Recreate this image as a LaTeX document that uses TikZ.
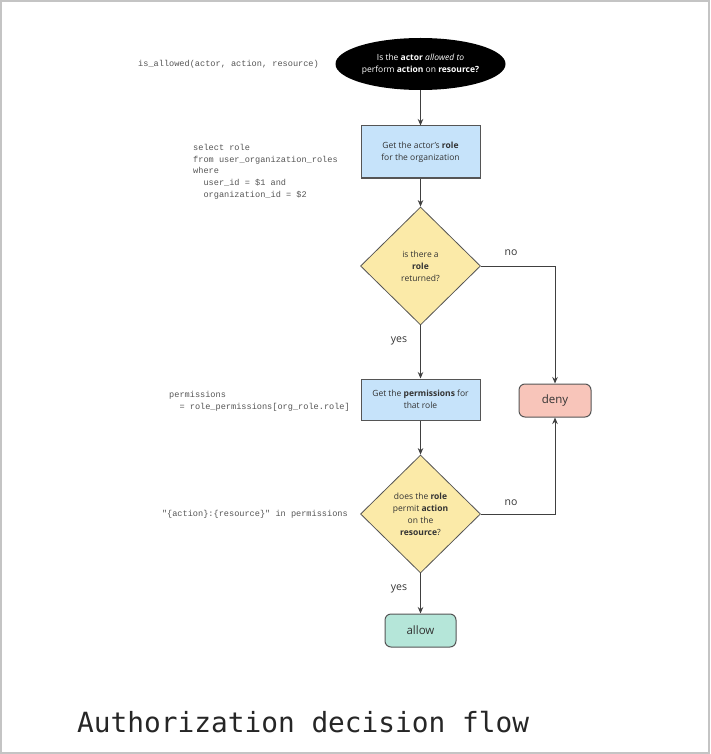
\documentclass[tikz,border=0pt]{standalone}
\usepackage{fontspec}
\usepackage{xcolor}
\setmainfont{Open Sans}
\newfontfamily\codefont{Liberation Mono}
\newfontfamily\titlefont{DejaVu Sans Mono}
\usetikzlibrary{shapes.geometric,arrows.meta}

\definecolor{frame}{HTML}{C4C4C4}
\definecolor{edge}{HTML}{555555}
\definecolor{ink}{HTML}{333333}
\definecolor{codegray}{HTML}{555555}
\definecolor{boxblue}{HTML}{C6E3FA}
\definecolor{askyellow}{HTML}{FBEAA8}
\definecolor{denyred}{HTML}{F8C5BA}
\definecolor{allowgreen}{HTML}{B5E6D9}

\begin{document}
\begin{tikzpicture}[x=1pt,y=-1pt,
    txt/.style={font=\fontsize{8.5}{12}\selectfont,text=ink,align=center},
    code/.style={font=\codefont\fontsize{8.6}{11.7}\selectfont,text=codegray,align=left,inner sep=0pt},
    stepbox/.style={txt,draw=edge,line width=1pt,fill=boxblue,minimum width=119pt,inner sep=0pt},
    askbox/.style={txt,diamond,draw=edge,line width=0.8pt,fill=askyellow,minimum width=120pt,minimum height=118pt,inner sep=0pt},
    endbox/.style={draw=edge,line width=1pt,rounded corners=6pt,minimum height=33pt,inner sep=0pt,text=ink,font=\fontsize{11.5}{13}\selectfont},
    lbl/.style={font=\fontsize{10.5}{12}\selectfont,text=ink},
    flowline/.style={draw=black!75,line width=1pt,-{Stealth[length=6.5pt,width=5.5pt]}}]
  \useasboundingbox (0,0) rectangle (710,754);
  \draw[frame,line width=2pt] (1,1) rectangle (709,753);

  % flow
  \node[ellipse,fill=black,minimum width=170pt,minimum height=52pt,inner sep=0pt,
        txt,text=white] (ask) at (420.5,64)
        {Is the \textbf{actor} \textit{allowed to}\\perform \textbf{action} on \textbf{resource?}};
  \node[stepbox,minimum height=52pt] (getrole) at (420.5,152)
        {Get the actor's \textbf{role}\\for the organization};
  \node[askbox] (hasrole) at (420.5,266)
        {is there a\\\textbf{role}\\returned?};
  \node[stepbox,minimum height=41pt] (getperms) at (420.5,399.5)
        {Get the \textbf{permissions} for\\that role};
  \node[askbox] (permits) at (420.5,514)
        {does the \textbf{role}\\permit \textbf{action}\\on the\\\textbf{resource}?};
  \node[endbox,fill=denyred,minimum width=72pt] (deny) at (555,400.5) {deny};
  \node[endbox,fill=allowgreen,minimum width=71pt] (allow) at (420.5,630.5) {allow};

  \draw[flowline] (ask) -- (getrole);
  \draw[flowline] (getrole) -- (hasrole);
  \draw[flowline] (hasrole) -- (getperms);
  \draw[flowline] (getperms) -- (permits);
  \draw[flowline] (permits) -- (allow);
  \draw[flowline] (hasrole.east) -| (deny);
  \draw[flowline] (permits.east) -| (deny);

  \node[lbl] (no1) at (511,253) {no};
  \node[lbl] (no2) at (511,503) {no};
  \node[lbl] (yes1) at (399,341) {yes};
  \node[lbl] (yes2) at (399,589) {yes};

  % code beside the steps
  \node[code,anchor=west] (call) at (138,64) {is\_allowed(actor, action, resource)};
  \node[code,anchor=west] (sql) at (193,171.5)
        {select role\\from user\_organization\_roles\\where\\\phantom{xx}user\_id = \$1 and\\\phantom{xx}organization\_id = \$2};
  \node[code,anchor=west] (lookup) at (169,401)
        {permissions\\\phantom{xx}= role\_permissions[org\_role.role]};
  \node[code,anchor=east] (check) at (348,514) {"\{action\}:\{resource\}" in permissions};

  \node[anchor=west,inner sep=0pt,font=\titlefont\fontsize{27.8}{30}\selectfont,text=black!85] (title) at (77,722)
        {Authorization decision flow};
\end{tikzpicture}
\end{document}
